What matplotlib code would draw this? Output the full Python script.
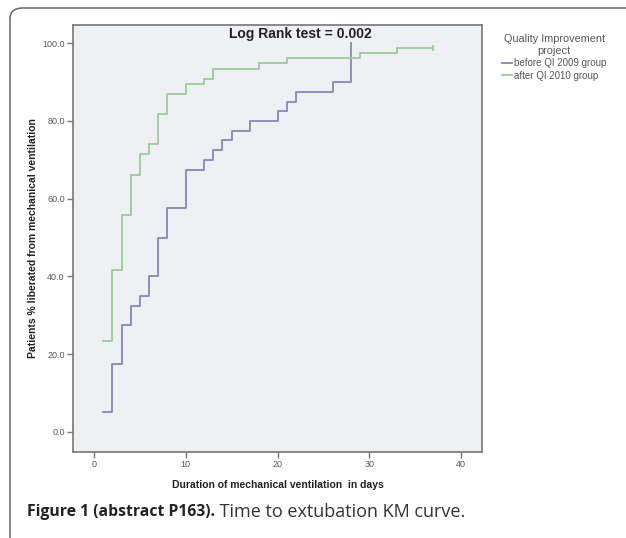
import matplotlib
matplotlib.use("Agg")
import matplotlib.pyplot as plt
from matplotlib.patches import FancyBboxPatch

# --- data ---
before_days = [1, 2, 3, 4, 5, 6, 7, 8, 10, 12, 13, 14, 15, 17, 20, 21, 22, 26, 28]
before_pct = [5.0, 17.5, 27.5, 32.5, 35.0, 40.0, 50.0, 57.5, 67.5, 70.0,
              72.5, 75.0, 77.5, 80.0, 82.5, 85.0, 87.5, 90.0, 100.0]

after_days = [1, 2, 3, 4, 5, 6, 7, 8, 10, 12, 13, 18, 21, 29, 33]
after_pct = [23.4, 41.6, 55.8, 66.2, 71.4, 74.0, 81.8, 87.0, 89.6, 90.9,
             93.5, 94.8, 96.1, 97.4, 98.7]
after_censor_day = 37

x_ticks = [0, 10, 20, 30, 40]
y_ticks = [0, 20, 40, 60, 80, 100]
labels = ["before QI 2009 group", "after QI 2010 group"]

BLUE = "#8787ba"
GREEN = "#9acb9a"
SPINE = "#777777"
TICKTXT = "#555555"

plt.rcParams["font.family"] = ["Liberation Sans", "DejaVu Sans"]

W, H = 626, 538
fig = plt.figure(figsize=(W / 100, H / 100), dpi=100)
fig.patch.set_facecolor("white")

# outer rounded frame (only left/top visible)
frame = FancyBboxPatch((10 / W, -20 / H), 640 / W, (530 + 20) / H,
                       boxstyle="round,pad=0,rounding_size=0.02",
                       transform=fig.transFigure, facecolor="none",
                       edgecolor="#666666", linewidth=1.1)
fig.add_artist(frame)

ax = fig.add_axes([73 / W, 1 - 452 / H, (482 - 73) / W, (452 - 25) / H])
ax.set_facecolor("#eef0f3")

ax.step(before_days, before_pct, where="post", color=BLUE, lw=1.3,
        label=labels[0])
ax.step(after_days + [after_censor_day], after_pct + [after_pct[-1]],
        where="post", color=GREEN, lw=1.3, label=labels[1])
ax.plot([after_censor_day], [after_pct[-1]], marker="|", ms=5,
        color=GREEN, mew=1.2)

ax.set_xlim(-2.3, 42.3)
ax.set_ylim(-5.2, 104.7)
ax.set_xticks(x_ticks)
ax.set_yticks(y_ticks)
ax.set_yticklabels([f"{v:.1f}" for v in y_ticks])
ax.tick_params(direction="out", length=4, width=1, color=SPINE,
               labelsize=6.5, labelcolor=TICKTXT, pad=2)
for s in ax.spines.values():
    s.set_color(SPINE)
    s.set_linewidth(1.2)

ax.set_xlabel("Duration of mechanical ventilation  in days",
              fontsize=7.5, fontweight="bold", color="#222222", labelpad=8)
ax.set_ylabel("Patients % liberated from mechanical ventilation",
              fontsize=7.5, fontweight="bold", color="#222222", labelpad=3)

ax.text(0.555, 0.978, "Log Rank test = 0.002", transform=ax.transAxes,
        ha="center", va="center", fontsize=10, fontweight="bold",
        color="#222222")

leg = fig.legend(loc="upper left", bbox_to_anchor=(495 / W, 1 - 27 / H),
                 frameon=False, fontsize=7, title="Quality Improvement\nproject",
                 title_fontsize=7.8, handlelength=1.0, handletextpad=0.3,
                 labelspacing=0.25, borderpad=0.2)
for t in leg.get_texts():
    t.set_color(TICKTXT)
leg.get_title().set_color(TICKTXT)
leg.get_title().set_multialignment("center")
leg.get_title().set_linespacing(1.25)

# caption
cap = fig.text(27 / W, 1 - 512 / H, "Figure 1 (abstract P163).",
               fontsize=11.3, fontweight="bold", color="#222222",
               family="Open Sans", va="center")
ax.annotate(" Time to extubation KM curve.", xy=(1, 0.5), xycoords=cap,
            va="center", ha="left", fontsize=13, color="#333333",
            family="Open Sans", annotation_clip=False)

fig.savefig("out.png", dpi=100, facecolor="white")
